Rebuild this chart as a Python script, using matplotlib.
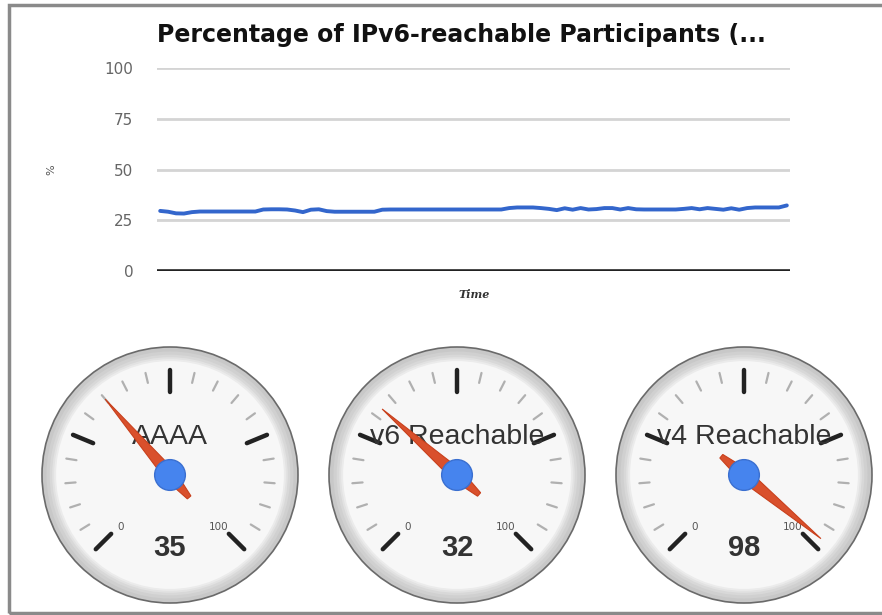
import numpy as np
import matplotlib
matplotlib.use("Agg")
import matplotlib.pyplot as plt
from matplotlib.patches import Circle, Polygon, Rectangle

# ---------------- data ----------------
chart_title = "Percentage of IPv6-reachable Participants (..."
x_label = "Time"
y_label = "%"
y_ticks = [0, 25, 50, 75, 100]
pct_v6 = [29.6, 29.2, 28.4, 28.3, 29.0, 29.3, 29.3, 29.3, 29.3, 29.3,
          29.3, 29.3, 29.3, 30.3, 30.4, 30.4, 30.3, 29.8, 29.0, 30.2,
          30.4, 29.5, 29.2, 29.2, 29.2, 29.2, 29.2, 29.2, 30.2, 30.3,
          30.3, 30.3, 30.3, 30.3, 30.3, 30.3, 30.3, 30.3, 30.3, 30.3,
          30.3, 30.3, 30.3, 30.3, 31.0, 31.3, 31.3, 31.3, 31.0, 30.6,
          30.0, 30.9, 30.2, 31.0, 30.3, 30.5, 31.0, 31.0, 30.3, 31.0,
          30.4, 30.3, 30.3, 30.3, 30.3, 30.3, 30.6, 31.0, 30.4, 31.0,
          30.6, 30.2, 30.9, 30.2, 31.0, 31.3, 31.3, 31.3, 31.3, 32.3]
gauge_labels = ["AAAA", "v6 Reachable", "v4 Reachable"]
gauge_values = [35, 32, 98]
gauge_min, gauge_max = 0, 100
gauge_major = [0, 25, 50, 75, 100]
gauge_minor_per_major = 4

# ---------------- layout ----------------
W, H = 882, 615
fig = plt.figure(figsize=(W / 100, H / 100), dpi=100)
fig.patch.set_facecolor("white")


def fx(px):
    return px / W


def fy(py):
    return 1 - py / H


# outer frame
fig.add_artist(Rectangle((fx(9), fy(613)), fx(905) - fx(9), fy(5) - fy(613),
                         transform=fig.transFigure, fill=False,
                         edgecolor="#8a8a8a", lw=2.5))

# ---------------- line chart ----------------
top_px, bot_px = 68, 271
ax = fig.add_axes([fx(157), fy(bot_px), fx(790) - fx(157), (bot_px - top_px) / H])
xs = np.arange(len(pct_v6))
ax.plot(xs, pct_v6, color="#3366cc", lw=2.8, solid_capstyle="round",
        solid_joinstyle="round", zorder=3)
ax.set_ylim(0, 100)
ax.set_xlim(-0.4, len(pct_v6) - 0.6)
ax.set_yticks(y_ticks)
ax.set_yticklabels([str(v) for v in y_ticks])
ax.tick_params(axis="y", length=0, pad=17, labelsize=11, labelcolor="#666666")
ax.set_xticks([])
for s in ax.spines.values():
    s.set_visible(False)
ax.grid(axis="y", color="#d4d4d4", lw=2)
ax.axhline(0, color="#222222", lw=2.6, zorder=2)
ax.set_axisbelow(True)
ax.patch.set_alpha(0)

fig.text(fx(157), fy(35), chart_title, ha="left", va="center",
         fontsize=17, fontweight="bold", color="#111111")
fig.text(fx(474), fy(294), x_label, ha="center", va="center",
         fontsize=8, style="italic", fontweight="bold", color="#333333",
         family="DejaVu Serif")
fig.text(fx(51), fy(170), y_label, ha="center", va="center",
         fontsize=8, rotation=90, color="#555555")

# ---------------- gauges ----------------
centers_x = [170, 457, 744]
cy = 475
R = 128
pad = 1.06


def pol(r, theta):
    return r * np.sin(theta), r * np.cos(theta)


def ang(v):
    return np.radians(-135 + 270 * (v - gauge_min) / (gauge_max - gauge_min))


for cxp, label, val in zip(centers_x, gauge_labels, gauge_values):
    s = R * pad
    g = fig.add_axes([fx(cxp - s), fy(cy + s), 2 * s / W, 2 * s / H])
    g.set_xlim(-pad, pad)
    g.set_ylim(-pad, pad)
    g.set_aspect("equal")
    g.axis("off")

    # rim
    g.add_patch(Circle((0, 0), 1.0, fc="#c8c8c8", ec="#6a6a6a", lw=1.2, zorder=1))
    for rr, col in [(0.965, "#d0d0d0"), (0.94, "#d8d8d8"), (0.92, "#e2e2e2"),
                    (0.905, "#ebebeb")]:
        g.add_patch(Circle((0, 0), rr, fc=col, ec="none", zorder=1))
    g.add_patch(Circle((0, 0), 0.89, fc="#f7f7f7", ec="none", zorder=1))

    # minor ticks
    for a, b in zip(gauge_major[:-1], gauge_major[1:]):
        step = (b - a) / (gauge_minor_per_major + 1)
        for k in range(1, gauge_minor_per_major + 1):
            t = ang(a + k * step)
            x0, y0 = pol(0.74, t)
            x1, y1 = pol(0.82, t)
            g.plot([x0, x1], [y0, y1], color="#b0b0b0", lw=1.6,
                   solid_capstyle="round", zorder=2)
    # major ticks
    for v in gauge_major:
        t = ang(v)
        x0, y0 = pol(0.65, t)
        x1, y1 = pol(0.82, t)
        g.plot([x0, x1], [y0, y1], color="#222222", lw=3.2,
               solid_capstyle="round", zorder=2)

    # min / max labels
    for v, sgn in [(gauge_min, -1), (gauge_max, 1)]:
        lx, ly = pol(0.56, np.radians(sgn * 137))
        g.text(lx, ly, str(v), ha="center", va="center", fontsize=7.5,
               color="#555555", zorder=3)

    # title
    g.text(0, 0.30, label, ha="center", va="center", fontsize=20.5,
           family="Liberation Sans", color="#333333", zorder=3)

    # needle
    t = ang(val)
    ux, uy = np.sin(t), np.cos(t)
    px, py = np.cos(t), -np.sin(t)
    tip = (0.78 * ux, 0.78 * uy)
    pts = [tip,
           (0.05 * px, 0.05 * py),
           (-0.23 * ux + 0.018 * px, -0.23 * uy + 0.018 * py),
           (-0.23 * ux - 0.018 * px, -0.23 * uy - 0.018 * py),
           (-0.05 * px, -0.05 * py)]
    g.add_patch(Polygon(pts, closed=True, fc="#d9502c", ec="#c8401c",
                        lw=0.8, zorder=4))
    g.add_patch(Circle((0, 0), 0.12, fc="#4684ee", ec="#3a6fd0", lw=1, zorder=5))

    # value
    g.text(0, -0.57, str(val), ha="center", va="center", fontsize=21,
           family="Liberation Sans", fontweight="bold", color="#333333",
           zorder=6)

fig.savefig("out.png", dpi=100, facecolor="white")
